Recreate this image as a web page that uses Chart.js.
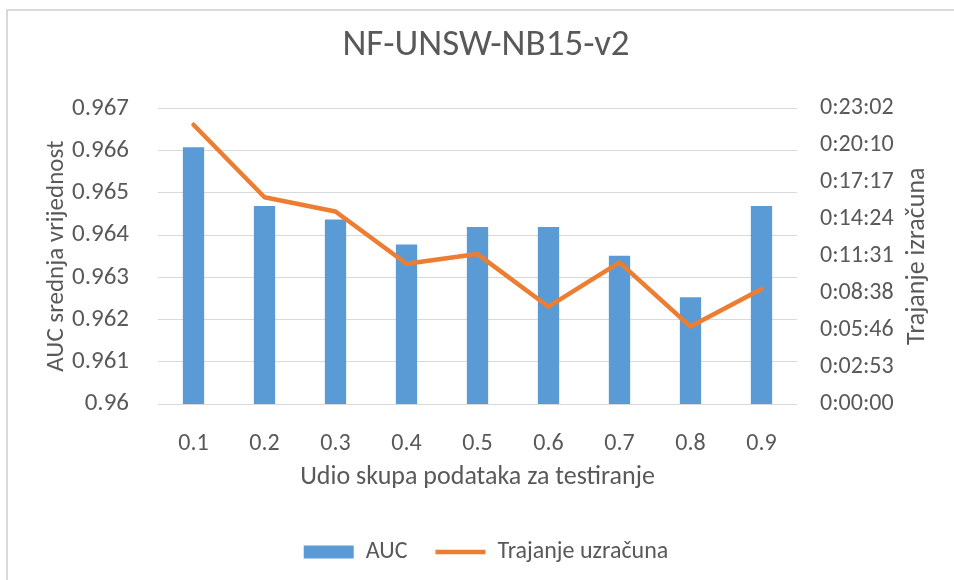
<!DOCTYPE html>
<html lang="hr">
<head>
<meta charset="UTF-8">
<title>NF-UNSW-NB15-v2</title>
<script src="https://cdn.jsdelivr.net/npm/chart.js"></script>
<style>
    body {
        margin: 0;
        padding: 0;
        background: white;
        overflow: hidden;
    }
    .frame {
        position: absolute;
        left: 6px;
        top: 9px;
        width: 1000px;
        height: 600px;
        border-left: 2px solid #d9d9d9;
        border-top: 2px solid #d9d9d9;
    }
    #chart {
        position: absolute;
        left: 0;
        top: 0;
    }
</style>
</head>
<body>
<div class="frame"></div>
<canvas id="chart" width="954" height="580"></canvas>
<script>
    // categories (share of data used for testing)
    const labels = ['0.1', '0.2', '0.3', '0.4', '0.5', '0.6', '0.7', '0.8', '0.9'];
    // mean AUC
    const auc = [0.96608, 0.96469, 0.96437, 0.96378, 0.96419, 0.96419, 0.96351, 0.96253, 0.96469];
    // computation time in seconds
    const duration = [1306, 967, 900, 656, 701, 455, 662, 362, 538];
    // right axis: Excel steps of 0.002 days
    const timeStep = 172.8;
    const timeMax = 1382.4;

    const textColor = '#595959';
    const fontFamily = "Carlito, 'Open Sans', sans-serif";

    function fmtTime(sec) {
        var s = Math.round(sec);
        var h = Math.floor(s / 3600);
        var m = Math.floor((s % 3600) / 60);
        var r = s % 60;
        return h + ':' + String(m).padStart(2, '0') + ':' + String(r).padStart(2, '0');
    }

    // Excel puts the right-hand title reading bottom to top, so draw it here
    const rightTitle = {
        id: 'rightTitle',
        afterDraw(chart) {
            const ctx = chart.ctx;
            const area = chart.chartArea;
            ctx.save();
            ctx.translate(917, (area.top + area.bottom) / 2);
            ctx.rotate(-Math.PI / 2);
            ctx.font = '26px ' + fontFamily;
            ctx.fillStyle = textColor;
            ctx.textAlign = 'center';
            ctx.textBaseline = 'middle';
            ctx.fillText('Trajanje izračuna', 0, 0);
            ctx.restore();
        }
    };

    const ctx = document.getElementById('chart').getContext('2d');
    const myChart = new Chart(ctx, {
        data: {
            labels: labels,
            datasets: [{
                type: 'bar',
                label: 'AUC',
                data: auc,
                yAxisID: 'y',
                backgroundColor: '#5b9bd5',
                borderWidth: 0,
                barPercentage: 0.3,
                categoryPercentage: 1,
                pointStyle: 'rect',
                order: 1
            }, {
                type: 'line',
                label: 'Trajanje uzračuna',
                data: duration,
                yAxisID: 'y1',
                borderColor: '#ed7d31',
                backgroundColor: '#ed7d31',
                borderWidth: 4.5,
                borderCapStyle: 'round',
                borderJoinStyle: 'round',
                pointRadius: 0,
                pointStyle: 'line',
                tension: 0,
                order: 0
            }]
        },
        options: {
            responsive: false,
            animation: false,
            layout: {
                padding: { left: 18, right: 0, top: 0, bottom: 6 }
            },
            plugins: {
                title: {
                    display: true,
                    text: 'NF-UNSW-NB15-v2',
                    color: textColor,
                    font: { family: fontFamily, size: 37, weight: 'normal' },
                    padding: { top: 24, bottom: 40 }
                },
                legend: {
                    position: 'bottom',
                    labels: {
                        color: textColor,
                        font: { family: fontFamily, size: 24 },
                        usePointStyle: true,
                        pointStyleWidth: 50,
                        boxHeight: 13,
                        padding: 28,
                        sort: (a, b) => a.datasetIndex - b.datasetIndex
                    }
                },
                tooltip: { enabled: false }
            },
            scales: {
                x: {
                    grid: { display: false },
                    border: { display: false },
                    ticks: {
                        color: textColor,
                        font: { family: fontFamily, size: 24 },
                        padding: 18
                    },
                    title: {
                        display: true,
                        text: 'Udio skupa podataka za testiranje',
                        color: textColor,
                        font: { family: fontFamily, size: 26 },
                        padding: { top: 8, bottom: 19 }
                    },
                    afterFit: function (scale) { scale.height = 108; }
                },
                y: {
                    position: 'left',
                    min: 0.96,
                    max: 0.967,
                    grid: { color: '#d9d9d9', lineWidth: 1, drawTicks: false },
                    border: { display: false },
                    ticks: {
                        stepSize: 0.001,
                        color: textColor,
                        font: { family: fontFamily, size: 25 },
                        padding: 29,
                        callback: v => String(Number(v.toFixed(3)))
                    },
                    title: {
                        display: true,
                        text: 'AUC srednja vrijednost',
                        color: textColor,
                        font: { family: fontFamily, size: 25 },
                        padding: { top: 24, bottom: 0 }
                    },
                    afterFit: function (scale) { scale.width = 140; }
                },
                y1: {
                    position: 'right',
                    min: 0,
                    max: timeMax,
                    grid: { display: false, drawTicks: false },
                    border: { display: false },
                    ticks: {
                        stepSize: timeStep,
                        color: textColor,
                        font: { family: fontFamily, size: 24 },
                        padding: 23,
                        callback: v => fmtTime(v)
                    },
                    afterFit: function (scale) { scale.width = 157; }
                }
            }
        },
        plugins: [rightTitle]
    });
</script>
</body>
</html>
